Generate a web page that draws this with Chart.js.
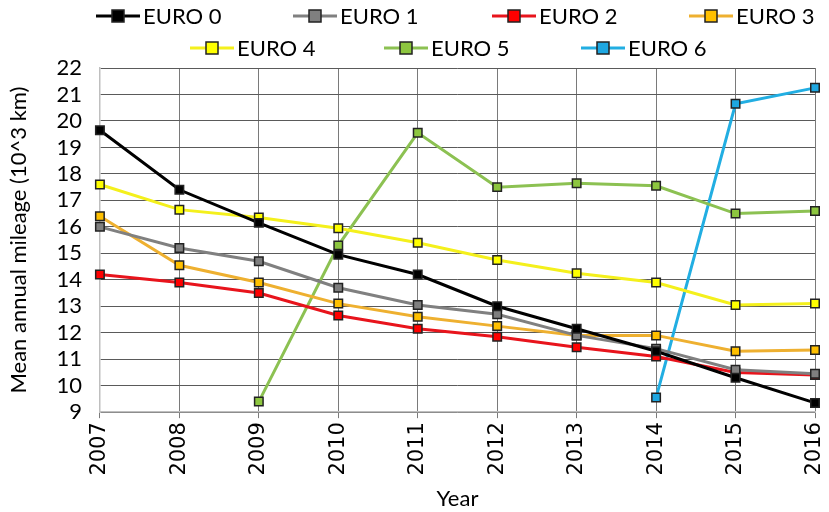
<!DOCTYPE html>
<html><head><meta charset="utf-8">
<script src="https://cdn.jsdelivr.net/npm/chart.js@4/dist/chart.umd.min.js"></script>
<style>html,body{margin:0;padding:0;background:#fff}#wrap{width:829px;height:512px}</style>
</head><body><div id="wrap"><canvas id="c" width="829" height="512"></canvas></div>
<script>
const years = ['2007','2008','2009','2010','2011','2012','2013','2014','2015','2016'];
const euro0 = [19.65, 17.4, 16.15, 14.95, 14.2, 13.0, 12.15, 11.3, 10.3, 9.35];
const euro1 = [16.0, 15.2, 14.7, 13.7, 13.05, 12.7, 11.9, 11.4, 10.6, 10.45];
const euro2 = [14.2, 13.9, 13.5, 12.65, 12.15, 11.85, 11.45, 11.1, 10.5, 10.4];
const euro3 = [16.4, 14.55, 13.9, 13.1, 12.6, 12.25, 11.9, 11.9, 11.3, 11.35];
const euro4 = [17.6, 16.65, 16.35, 15.95, 15.4, 14.75, 14.25, 13.9, 13.05, 13.1];
const euro5 = [null, null, 9.4, 15.3, 19.55, 17.5, 17.65, 17.55, 16.5, 16.6];
const euro6 = [null, null, null, null, null, null, null, 9.55, 20.65, 21.25];
const seriesNames = ['EURO 0','EURO 1','EURO 2','EURO 3','EURO 4','EURO 5','EURO 6'];
const yTicks = [9,10,11,12,13,14,15,16,17,18,19,20,21,22];

const lineColors = ['#000000','#808080','#e8141c','#eeb030','#f4f01c','#8cc152','#22aee2'];
const fillColors = ['#000000','#7f7f7f','#ff0000','#ffc000','#ffff00','#8dc63f','#1ea7e1'];
const allData = [euro0,euro1,euro2,euro3,euro4,euro5,euro6];
const FONT = "Lato, 'Open Sans', sans-serif";

const datasets = allData.map((d,i)=>({
  label: seriesNames[i], data: d,
  borderColor: lineColors[i], backgroundColor: fillColors[i],
  borderWidth: 3, pointStyle: 'rect', pointRadius: 6, pointHoverRadius: 6,
  pointBorderColor: '#222', pointBorderWidth: 1.5, pointBackgroundColor: fillColors[i],
  spanGaps: false, tension: 0
}));

const legendPos = [
  {x:96, y:16},{x:293,y:16},{x:492,y:16},{x:689,y:16},
  {x:190,y:48},{x:384,y:48},{x:581,y:48}
];
const customLegend = {
  id:'customLegend',
  afterDraw(chart){
    const ctx = chart.ctx;
    ctx.save();
    chart.data.datasets.forEach((ds,i)=>{
      const p = legendPos[i];
      ctx.strokeStyle = ds.borderColor; ctx.lineWidth = 3;
      ctx.beginPath(); ctx.moveTo(p.x, p.y); ctx.lineTo(p.x+44, p.y); ctx.stroke();
      ctx.fillStyle = ds.pointBackgroundColor; ctx.strokeStyle = '#222'; ctx.lineWidth = 1.5;
      ctx.fillRect(p.x+16, p.y-6, 12, 12); ctx.strokeRect(p.x+16, p.y-6, 12, 12);
      ctx.fillStyle = '#000'; ctx.font = '22px ' + FONT; ctx.textBaseline = 'middle'; ctx.textAlign='left';
      ctx.fillText(ds.label, p.x+47, p.y+1);
    });
    ctx.restore();
  }
};

new Chart(document.getElementById('c'), {
  type: 'line',
  data: { labels: years, datasets },
  options: {
    responsive: false, animation: false,
    layout: { padding: { top: 68, right: 14, left: 2, bottom: 0 } },
    plugins: { legend: { display: false }, tooltip: { enabled: false } },
    scales: {
      x: {
        offset: false,
        afterFit: (s) => { s.paddingRight = 0; },
        grid: { color: '#7a7a7a', lineWidth: 1, drawTicks: true, tickLength: 6 },
        border: { color: '#bfbfbf', width: 1.5 },
        ticks: { color: '#000', font: { family: 'DejaVu Sans', size: 21 }, minRotation: 90, maxRotation: 90, padding: 4, autoSkip: false },
        title: { display: true, text: 'Year', color: '#000', font: { family: FONT, size: 22 }, padding: { top: 6, bottom: 0 } }
      },
      y: {
        min: 9, max: 22,
        afterBuildTicks: (axis) => { axis.ticks = yTicks.map(v=>({value:v})); },
        grid: { color: '#5a5a5a', lineWidth: 1, drawTicks: false },
        border: { color: '#bfbfbf', width: 1.5 },
        ticks: { color: '#000', font: { family: FONT, size: 22 }, padding: 18, autoSkip: false },
        title: { display: true, text: 'Mean annual mileage (10^3 km)', color: '#000', font: { family: FONT, size: 22 }, padding: { bottom: 6 } }
      }
    }
  },
  plugins: [customLegend]
});
</script></body></html>
